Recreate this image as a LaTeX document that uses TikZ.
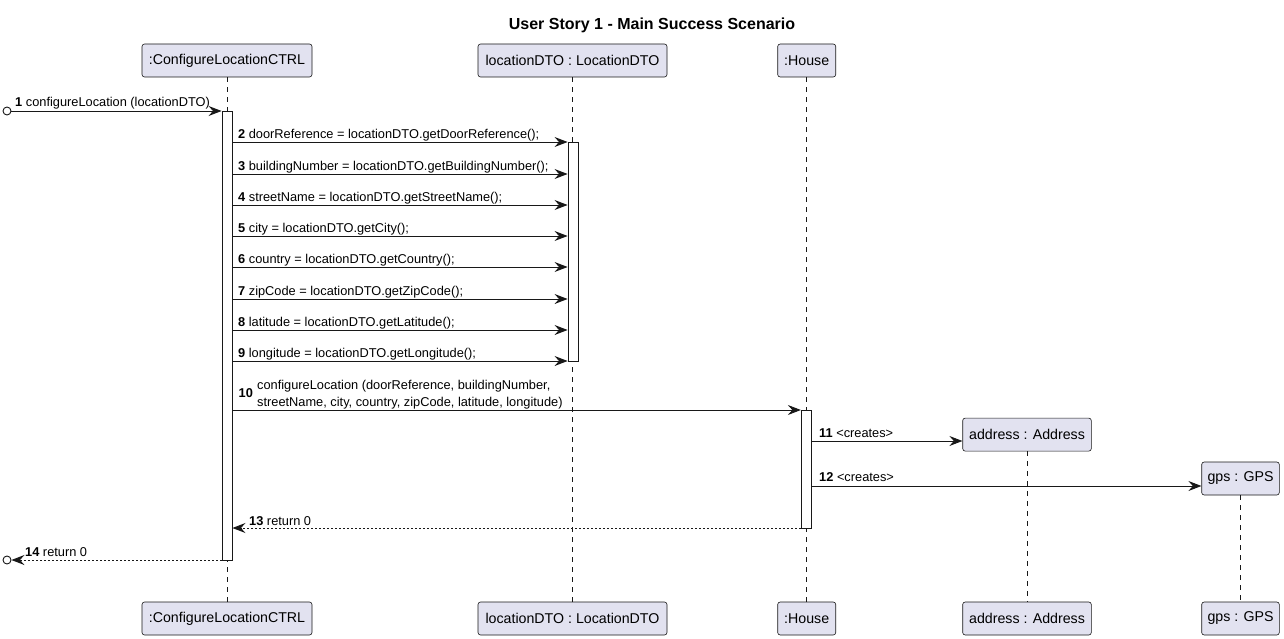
\documentclass[tikz,border=0pt]{standalone}
\usepackage{fontspec}
\setmainfont{Liberation Sans}
\usetikzlibrary{arrows.meta,calc}
\definecolor{partfill}{HTML}{E2E2F0}
\definecolor{ink}{HTML}{181818}
\begin{document}
\begin{tikzpicture}[x=1pt,y=-1pt,
  part/.style={draw=ink,line width=0.6pt,fill=partfill,rounded corners=2.5pt,minimum height=33pt,inner sep=0pt,font=\fontsize{14.2}{16}\selectfont},
  life/.style={draw=ink,line width=0.5pt,dash pattern=on 5pt off 5pt},
  actbar/.style={draw=ink,line width=0.9pt,fill=white,minimum width=10pt,inner sep=0pt},
  msg/.style={draw=ink,line width=0.9pt,-{Stealth[length=13pt,width=10pt,inset=4.5pt]}},
  ret/.style={msg,dash pattern=on 2pt off 2pt},
  lbl/.style={anchor=base west,inner sep=0pt,font=\fontsize{12.8}{15}\selectfont},
  ttl/.style={font=\fontsize{16}{18}\selectfont\bfseries,inner sep=0pt}
]
\useasboundingbox[fill=white] (0,0) rectangle (1284,639);
\node[ttl] (title) at (652,25) {User Story 1 - Main Success Scenario};
% participants top
\node[part,minimum width=170pt] (ctrlT) at (227,60.5) {:ConfigureLocationCTRL};
\node[part,minimum width=189pt] (dtoT) at (572.5,60.5) {locationDTO : LocationDTO};
\node[part,minimum width=58pt] (houseT) at (806.7,60.5) {:House};
\node[part,minimum width=128.6pt] (addrT) at (1027,434.6) {address : Address};
\node[part,minimum width=77.6pt] (gpsT) at (1240.5,478.5) {gps : GPS};
% participants bottom
\node[part,minimum width=170pt] (ctrlB) at (227,618.5) {:ConfigureLocationCTRL};
\node[part,minimum width=189pt] (dtoB) at (572.5,618.5) {locationDTO : LocationDTO};
\node[part,minimum width=58pt] (houseB) at (806.7,618.5) {:House};
\node[part,minimum width=128.6pt] (addrB) at (1027,618.5) {address : Address};
\node[part,minimum width=77.6pt] (gpsB) at (1240.5,618.5) {gps : GPS};
% lifelines
\draw[life] (ctrlT) -- (ctrlB);
\draw[life] (dtoT) -- (dtoB);
\draw[life] (houseT) -- (houseB);
\draw[life] (addrT) -- (addrB);
\draw[life] (gpsT) -- (gpsB);
% activation bars
\node[actbar,minimum height=449pt] (act1) at (227,335.5) {};
\node[actbar,minimum height=219pt] (act2) at (573,251.5) {};
\node[actbar,minimum height=118pt] (act3) at (806.3,469) {};
% row coordinates
\foreach \n/\y in {1/111,2/142,3/174,4/205,5/236,6/267,7/299,8/330,9/361,10/410,11/441,12/486,13/528,14/560}
  \coordinate (r\n) at (0,\y);
% start / end circles
\node[circle,draw=ink,line width=0.9pt,fill=white,minimum size=8pt,inner sep=0pt] (src) at (7,111) {};
\node[circle,draw=ink,line width=0.9pt,fill=white,minimum size=8pt,inner sep=0pt] (dst) at (7,560) {};
% message 1
\draw[msg] (src) -- (act1.west |- r1);
\node[lbl] (l1) at (15,107) {\textbf{1} configureLocation (locationDTO)};
% messages 2-9
\foreach \n/\y/\t in {2/142/{doorReference = locationDTO.getDoorReference();},
  3/174/{buildingNumber = locationDTO.getBuildingNumber();},
  4/205/{streetName = locationDTO.getStreetName();},
  5/236/{city = locationDTO.getCity();},
  6/267/{country = locationDTO.getCountry();},
  7/299/{zipCode = locationDTO.getZipCode();},
  8/330/{latitude = locationDTO.getLatitude();},
  9/361/{longitude = locationDTO.getLongitude();}}{
  \draw[msg] (act1.east |- r\n) -- (act2.west |- r\n);
  \node[lbl] (l\n) at (238,\y-3.5) {\textbf{\n} \t};
}
% message 10
\draw[msg] (act1.east |- r10) -- (act3.west |- r10);
\node[lbl] (l10n) at (238.5,397.5) {\textbf{10}};
\node[lbl] (l10a) at (257,389) {configureLocation (doorReference, buildingNumber,};
\node[lbl] (l10b) at (257,406) {streetName, city, country, zipCode, latitude, longitude)};
% messages 11, 12
\draw[msg] (act3.east |- r11) -- (addrT.west |- r11);
\node[lbl] (l11) at (819,437) {\textbf{11} \textless creates\textgreater};
\draw[msg] (act3.east |- r12) -- (gpsT.west |- r12);
\node[lbl] (l12) at (819,481) {\textbf{12} \textless creates\textgreater};
% returns
\draw[ret] (act3.west |- r13) -- (act1.east |- r13);
\node[lbl] (l13) at (249,525) {\textbf{13} return 0};
\draw[ret] (act1.west |- r14) -- (dst);
\node[lbl] (l14) at (25,556) {\textbf{14} return 0};
\end{tikzpicture}
\end{document}
